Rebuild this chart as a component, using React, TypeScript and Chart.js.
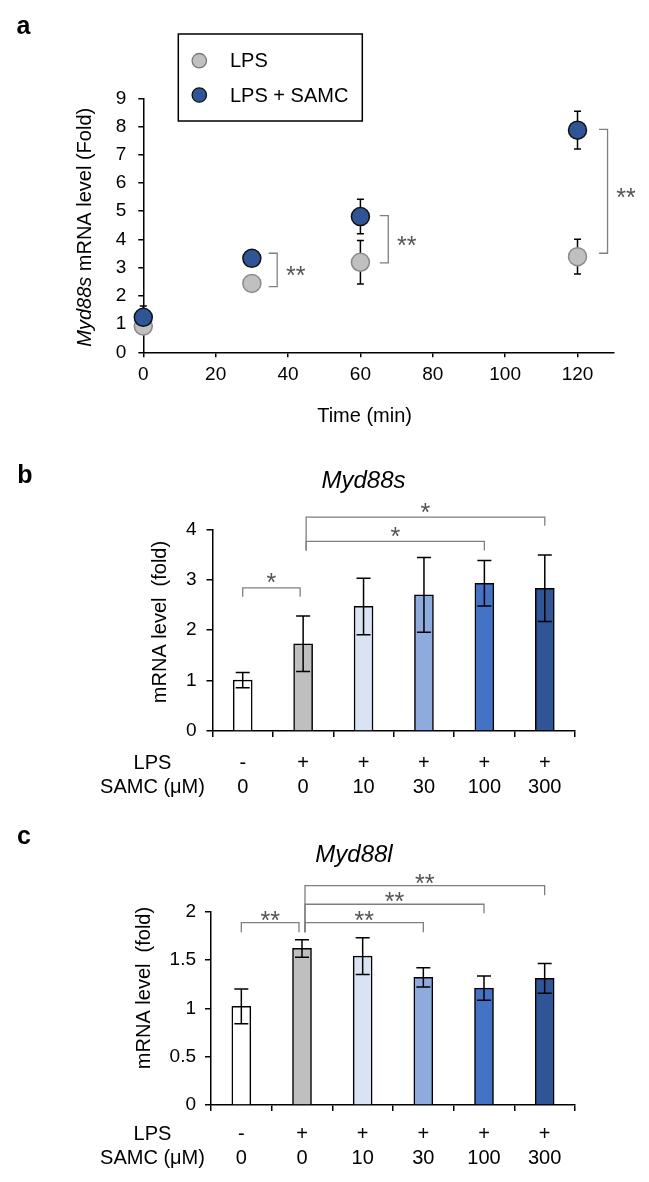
import React, { useEffect, useRef } from 'react';
import { Chart, registerables } from 'chart.js';

Chart.register(...registerables);

const FONT = '"Liberation Sans", Arial, Helvetica, sans-serif';

// ---------- Panel a data ----------
const timePoints = [0, 30, 60, 120];
const lpsMean = [0.93, 2.44, 3.19, 3.39];
const lpsErr = [0.08, 0.08, 0.77, 0.62];
const samcMean = [1.24, 3.33, 4.81, 7.87];
const samcErr = [0.4, 0.08, 0.61, 0.67];
const timeTicks = [0, 20, 40, 60, 80, 100, 120];
const foldTicks = [0, 1, 2, 3, 4, 5, 6, 7, 8, 9];
// significance brackets (time position, upper value, lower value)
const aSigX = [37, 67.7, 128.3];
const aSigTop = [3.51, 4.84, 7.9];
const aSigBottom = [2.33, 3.17, 3.51];
const aSigLabel = ['**', '**', '**'];

// ---------- Panels b / c data ----------
const lpsRow = ['-', '+', '+', '+', '+', '+'];
const samcDose = ['0', '0', '10', '30', '100', '300'];
const barColors = ['#ffffff', '#bfbfbf', '#dae3f3', '#8faadc', '#4472c4', '#2f5597'];

const myd88sMean = [1.01, 1.73, 2.47, 2.7, 2.93, 2.83];
const myd88sErr = [0.15, 0.55, 0.56, 0.74, 0.45, 0.66];
const myd88sTicks = [0, 1, 2, 3, 4];
const bSigFrom = [0, 1, 1];
const bSigTo = [1, 4, 5];
const bSigTop = [2.84, 3.76, 4.24];
const bSigLeftEnd = [2.66, 3.58, 3.58];
const bSigRightEnd = [2.66, 3.58, 4.07];
const bSigLabel = ['*', '*', '*'];

const myd88lMean = [1.02, 1.62, 1.54, 1.32, 1.21, 1.31];
const myd88lErr = [0.18, 0.09, 0.19, 0.1, 0.125, 0.155];
const myd88lTicks = [0, 0.5, 1, 1.5, 2];
const cSigFrom = [0, 1, 1, 1];
const cSigTo = [1, 3, 4, 5];
const cSigTop = [1.886, 1.886, 2.077, 2.27];
const cSigLeftEnd = [1.787, 1.787, 1.787, 1.787];
const cSigRightEnd = [1.787, 1.787, 1.983, 2.17];
const cSigLabel = ['**', '**', '**', '**'];

const SIG_COLOR = '#7f7f7f';
const STAR_COLOR = '#555555';
const STAR_SIZE = 25;

function drawErrorBar(ctx: CanvasRenderingContext2D, x: number, yTop: number, yBot: number, cap: number) {
  ctx.beginPath();
  ctx.moveTo(x, yTop);
  ctx.lineTo(x, yBot);
  ctx.moveTo(x - cap, yTop);
  ctx.lineTo(x + cap, yTop);
  ctx.moveTo(x - cap, yBot);
  ctx.lineTo(x + cap, yBot);
  ctx.stroke();
}

function drawStars(ctx: CanvasRenderingContext2D, text: string, cx: number, cy: number) {
  ctx.save();
  ctx.fillStyle = STAR_COLOR;
  ctx.font = `${STAR_SIZE}px ${FONT}`;
  ctx.textAlign = 'center';
  ctx.textBaseline = 'alphabetic';
  ctx.fillText(text, cx, cy + STAR_SIZE * 0.58);
  ctx.restore();
}

function panelLetter(ctx: CanvasRenderingContext2D, letter: string, x: number, y: number) {
  ctx.save();
  ctx.fillStyle = '#000';
  ctx.font = `bold 25px ${FONT}`;
  ctx.textAlign = 'center';
  ctx.textBaseline = 'middle';
  ctx.fillText(letter, x, y);
  ctx.restore();
}

const plainNumber = (v: any) => String(v);

function PanelA() {
  const ref = useRef<HTMLCanvasElement>(null);
  useEffect(() => {
    const canvas = ref.current!;
    const annot = {
      id: 'annotA',
      beforeDatasetsDraw(chart: any) {
        const ctx = chart.ctx as CanvasRenderingContext2D;
        const xs = chart.scales.x;
        const ys = chart.scales.y;
        ctx.save();
        ctx.strokeStyle = '#000';
        ctx.lineWidth = 1.5;
        timePoints.forEach((t, i) => {
          const x = xs.getPixelForValue(t);
          drawErrorBar(ctx, x, ys.getPixelForValue(lpsMean[i] + lpsErr[i]), ys.getPixelForValue(lpsMean[i] - lpsErr[i]), 3.5);
          drawErrorBar(ctx, x, ys.getPixelForValue(samcMean[i] + samcErr[i]), ys.getPixelForValue(samcMean[i] - samcErr[i]), 3.5);
        });
        ctx.restore();
      },
      afterDraw(chart: any) {
        const ctx = chart.ctx as CanvasRenderingContext2D;
        const xs = chart.scales.x;
        const ys = chart.scales.y;
        // brackets
        ctx.save();
        ctx.strokeStyle = SIG_COLOR;
        ctx.lineWidth = 1.3;
        aSigX.forEach((t, i) => {
          const x = xs.getPixelForValue(t);
          const y1 = ys.getPixelForValue(aSigTop[i]);
          const y2 = ys.getPixelForValue(aSigBottom[i]);
          ctx.beginPath();
          ctx.moveTo(x - 8.5, y1);
          ctx.lineTo(x, y1);
          ctx.lineTo(x, y2);
          ctx.lineTo(x - 8.5, y2);
          ctx.stroke();
          drawStars(ctx, aSigLabel[i], x + 18.5, (y1 + y2) / 2);
        });
        ctx.restore();

        // y title (mixed italic / regular)
        ctx.save();
        ctx.fillStyle = '#000';
        ctx.textBaseline = 'middle';
        ctx.translate(85, (chart.chartArea.top + chart.chartArea.bottom) / 2 + 2);
        ctx.rotate(-Math.PI / 2);
        const italic = `italic 20px ${FONT}`;
        const normal = `20px ${FONT}`;
        ctx.font = italic;
        const w1 = ctx.measureText('Myd88s').width;
        ctx.font = normal;
        const w2 = ctx.measureText(' mRNA level (Fold)').width;
        const start = -(w1 + w2) / 2;
        ctx.textAlign = 'left';
        ctx.font = italic;
        ctx.fillText('Myd88s', start, 0);
        ctx.font = normal;
        ctx.fillText(' mRNA level (Fold)', start + w1, 0);
        ctx.restore();

        // x title
        ctx.save();
        ctx.fillStyle = '#000';
        ctx.font = `20px ${FONT}`;
        ctx.textAlign = 'center';
        ctx.textBaseline = 'middle';
        ctx.fillText('Time (min)', 364.6, 416.7);
        ctx.restore();

        // legend
        ctx.save();
        ctx.fillStyle = '#fff';
        ctx.fillRect(178.3, 34, 184, 87);
        ctx.strokeStyle = '#000';
        ctx.lineWidth = 1.5;
        ctx.strokeRect(178.3, 34, 184, 87);
        const items = [
          { label: 'LPS', fill: '#c0c0c0', stroke: '#7a7a7a', y: 60.7 },
          { label: 'LPS + SAMC', fill: '#2f5597', stroke: '#111', y: 95 },
        ];
        items.forEach((it) => {
          ctx.beginPath();
          ctx.arc(199.3, it.y, 7.2, 0, Math.PI * 2);
          ctx.fillStyle = it.fill;
          ctx.fill();
          ctx.lineWidth = 1.3;
          ctx.strokeStyle = it.stroke;
          ctx.stroke();
          ctx.fillStyle = '#000';
          ctx.font = `20px ${FONT}`;
          ctx.textAlign = 'left';
          ctx.textBaseline = 'middle';
          ctx.fillText(it.label, 230, it.y + 1);
        });
        ctx.restore();

        panelLetter(ctx, 'a', 23.5, 27.3);
      },
    };

    const chart = new Chart(canvas, {
      type: 'scatter',
      data: {
        datasets: [
          {
            label: 'LPS + SAMC',
            data: timePoints.map((t, i) => ({ x: t, y: samcMean[i] })),
            backgroundColor: '#2f5597',
            borderColor: '#111',
            borderWidth: 1.5,
            pointRadius: 9,
            pointHoverRadius: 9,
            clip: false as any,
          },
          {
            label: 'LPS',
            data: timePoints.map((t, i) => ({ x: t, y: lpsMean[i] })),
            backgroundColor: '#c0c0c0',
            borderColor: '#8a8a8a',
            borderWidth: 1.5,
            pointRadius: 9,
            pointHoverRadius: 9,
            clip: false as any,
          },
        ],
      },
      options: {
        animation: false,
        responsive: false,
        events: [],
        layout: { padding: { left: 0, top: 98.3, right: 35.3, bottom: 0 } },
        plugins: { legend: { display: false }, tooltip: { enabled: false }, title: { display: false } },
        scales: {
          x: {
            type: 'linear',
            min: 0,
            max: 130,
            afterBuildTicks: (s: any) => {
              s.ticks = timeTicks.map((v) => ({ value: v }));
            },
            afterFit: (s: any) => {
              s.height = 440 - 352.3;
            },
            grid: { drawOnChartArea: false, drawTicks: true, tickLength: 5, color: '#000', lineWidth: 1.5 },
            border: { color: '#000', width: 1.5 },
            ticks: { color: '#000', font: { family: FONT, size: 19 }, padding: 6, maxRotation: 0, autoSkip: false, callback: plainNumber },
          },
          y: {
            type: 'linear',
            min: 0,
            max: 9,
            afterBuildTicks: (s: any) => {
              s.ticks = foldTicks.map((v) => ({ value: v }));
            },
            afterFit: (s: any) => {
              s.width = 143.3;
            },
            grid: { drawOnChartArea: false, drawTicks: true, tickLength: 5, color: '#000', lineWidth: 1.5 },
            border: { color: '#000', width: 1.5 },
            ticks: { color: '#000', font: { family: FONT, size: 19 }, padding: 12, autoSkip: false, callback: plainNumber },
          },
        },
      },
      plugins: [annot],
    } as any);
    return () => chart.destroy();
  }, []);
  return <canvas ref={ref} width={649} height={440} style={{ position: 'absolute', left: 0, top: 0, width: 649, height: 440 }} />;
}

type BarPanelProps = {
  top: number;
  height: number;
  letter: string;
  letterPos: [number, number];
  title: string;
  titlePos: [number, number];
  yTitlePos: [number, number];
  means: number[];
  errs: number[];
  yTicks: number[];
  sigFrom: number[];
  sigTo: number[];
  sigTop: number[];
  sigLeftEnd: number[];
  sigRightEnd: number[];
  sigLabel: string[];
  area: { left: number; right: number; top: number; bottom: number };
  xPad: number;
  yPad: number;
  starOffset: number;
};

function BarPanel(p: BarPanelProps) {
  const ref = useRef<HTMLCanvasElement>(null);
  useEffect(() => {
    const canvas = ref.current!;
    const TICK_LEN = 6;
    const LH = 1.22;
    const annot = {
      id: 'annotBar' + p.letter,
      afterDatasetsDraw(chart: any) {
        const ctx = chart.ctx as CanvasRenderingContext2D;
        const xs = chart.scales.x;
        const ys = chart.scales.y;
        ctx.save();
        ctx.strokeStyle = '#000';
        ctx.lineWidth = 1.5;
        p.means.forEach((m, i) => {
          const x = xs.getPixelForValue(i);
          drawErrorBar(ctx, x, ys.getPixelForValue(m + p.errs[i]), ys.getPixelForValue(m - p.errs[i]), 7);
        });
        ctx.restore();
      },
      afterDraw(chart: any) {
        const ctx = chart.ctx as CanvasRenderingContext2D;
        const xs = chart.scales.x;
        const ys = chart.scales.y;
        // brackets
        ctx.save();
        ctx.strokeStyle = SIG_COLOR;
        ctx.lineWidth = 1.3;
        p.sigFrom.forEach((f, i) => {
          const t = p.sigTo[i];
          let x1 = xs.getPixelForValue(f);
          let x2 = xs.getPixelForValue(t);
          if (f === 1) x1 += 3;
          if (t === 1) x2 -= 3;
          const yTop = ys.getPixelForValue(p.sigTop[i]);
          const yL = ys.getPixelForValue(p.sigLeftEnd[i]);
          const yR = ys.getPixelForValue(p.sigRightEnd[i]);
          ctx.beginPath();
          ctx.moveTo(x1, yL);
          ctx.lineTo(x1, yTop);
          ctx.lineTo(x2, yTop);
          ctx.lineTo(x2, yR);
          ctx.stroke();
          drawStars(ctx, p.sigLabel[i], (x1 + x2) / 2, yTop - p.starOffset);
        });
        ctx.restore();

        // title
        ctx.save();
        ctx.fillStyle = '#000';
        ctx.font = `italic 24px ${FONT}`;
        ctx.textAlign = 'center';
        ctx.textBaseline = 'middle';
        ctx.fillText(p.title, p.titlePos[0], p.titlePos[1]);
        ctx.restore();

        // y title
        ctx.save();
        ctx.fillStyle = '#000';
        ctx.font = `20px ${FONT}`;
        ctx.textAlign = 'center';
        ctx.textBaseline = 'middle';
        ctx.translate(p.yTitlePos[0], p.yTitlePos[1]);
        ctx.rotate(-Math.PI / 2);
        ctx.fillText('mRNA level  (fold)', 0, 0);
        ctx.restore();

        // row labels
        ctx.save();
        ctx.fillStyle = '#000';
        ctx.font = `20px ${FONT}`;
        ctx.textAlign = 'center';
        ctx.textBaseline = 'middle';
        const y0 = xs.top + TICK_LEN + p.xPad + (20 * LH) / 2;
        ctx.fillText('LPS', 152.5, y0);
        ctx.fillText('SAMC (\u03bcM)', 152.5, y0 + 20 * LH);
        ctx.restore();

        panelLetter(ctx, p.letter, p.letterPos[0], p.letterPos[1]);
      },
    };

    const chart = new Chart(canvas, {
      type: 'bar',
      data: {
        labels: lpsRow.map((l, i) => [l, samcDose[i]]),
        datasets: [
          {
            data: p.means,
            backgroundColor: barColors,
            borderColor: '#000',
            borderWidth: 1.5,
            barThickness: 19,
          },
        ],
      },
      options: {
        animation: false,
        responsive: false,
        events: [],
        layout: { padding: { left: 0, top: p.area.top, right: 649 - p.area.right, bottom: 0 } },
        plugins: { legend: { display: false }, tooltip: { enabled: false }, title: { display: false } },
        scales: {
          x: {
            afterFit: (s: any) => {
              s.height = p.height - p.area.bottom;
            },
            grid: { offset: true, drawOnChartArea: false, drawTicks: true, tickLength: TICK_LEN, color: '#000', lineWidth: 1.5 },
            border: { color: '#000', width: 1.5 },
            ticks: { color: '#000', font: { family: FONT, size: 20, lineHeight: LH }, padding: p.xPad, maxRotation: 0, autoSkip: false },
          },
          y: {
            type: 'linear',
            min: p.yTicks[0],
            max: p.yTicks[p.yTicks.length - 1],
            afterBuildTicks: (s: any) => {
              s.ticks = p.yTicks.map((v) => ({ value: v }));
            },
            afterFit: (s: any) => {
              s.width = p.area.left;
            },
            grid: { drawOnChartArea: false, drawTicks: true, tickLength: TICK_LEN, color: '#000', lineWidth: 1.5 },
            border: { color: '#000', width: 1.5 },
            ticks: { color: '#000', font: { family: FONT, size: 19 }, padding: p.yPad, autoSkip: false, callback: plainNumber },
          },
        },
      },
      plugins: [annot],
    } as any);
    return () => chart.destroy();
  }, []);
  return (
    <canvas
      ref={ref}
      width={649}
      height={p.height}
      style={{ position: 'absolute', left: 0, top: p.top, width: 649, height: p.height }}
    />
  );
}

export default function App() {
  return (
    <div style={{ position: 'absolute', left: 0, top: 0, width: 649, height: 1182, background: '#fff', overflow: 'hidden' }}>
      <PanelA />
      <BarPanel
        top={440}
        height={360}
        letter="b"
        letterPos={[25, 36]}
        title="Myd88s"
        titlePos={[363.5, 41]}
        yTitlePos={[160, 182]}
        means={myd88sMean}
        errs={myd88sErr}
        yTicks={myd88sTicks}
        sigFrom={bSigFrom}
        sigTo={bSigTo}
        sigTop={bSigTop}
        sigLeftEnd={bSigLeftEnd}
        sigRightEnd={bSigRightEnd}
        sigLabel={bSigLabel}
        area={{ left: 212.5, right: 575, top: 89.3, bottom: 291 }}
        xPad={14}
        yPad={10}
        starOffset={11}
      />
      <BarPanel
        top={800}
        height={382}
        letter="c"
        letterPos={[24, 37.5]}
        title="Myd88l"
        titlePos={[354, 55]}
        yTitlePos={[144.6, 188]}
        means={myd88lMean}
        errs={myd88lErr}
        yTicks={myd88lTicks}
        sigFrom={cSigFrom}
        sigTo={cSigTo}
        sigTop={cSigTop}
        sigLeftEnd={cSigLeftEnd}
        sigRightEnd={cSigRightEnd}
        sigLabel={cSigLabel}
        area={{ left: 211, right: 575, top: 111.7, bottom: 305 }}
        xPad={11}
        yPad={9}
        starOffset={8.5}
      />
    </div>
  );
}
